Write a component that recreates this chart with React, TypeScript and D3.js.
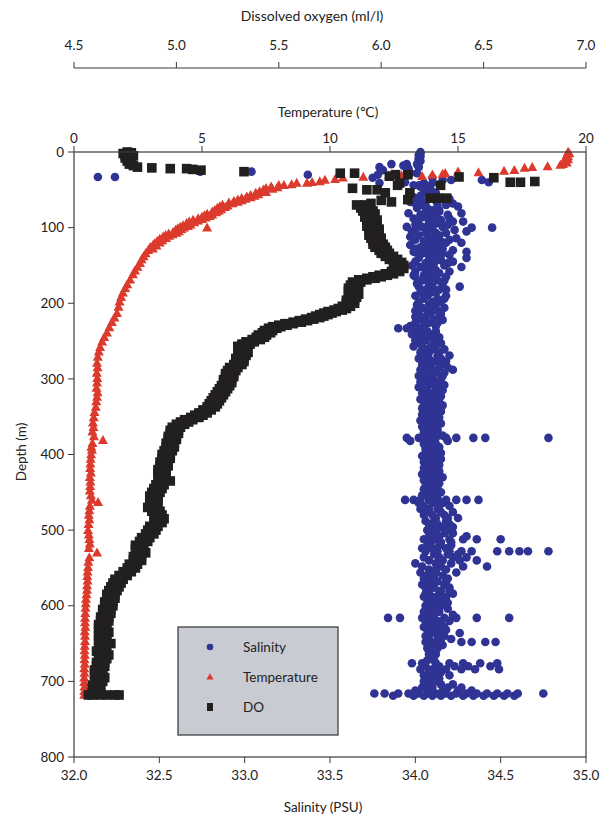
import React from "react";
import * as d3 from "d3";

// ---------- data ----------
const salinityTicks = [32.0, 32.5, 33.0, 33.5, 34.0, 34.5, 35.0];
const temperatureTicks = [0, 5, 10, 15, 20];
const oxygenTicks = [4.5, 5.0, 5.5, 6.0, 6.5, 7.0];
const depthTicks = [0, 100, 200, 300, 400, 500, 600, 700, 800];

// temperature profile: [depth m, temperature °C]
const temperature: [number, number][] = [
  [0, 19.3], [2, 19.35], [4, 19.25], [6, 19.3], [8, 19.2], [10, 19.3], [12, 19.2], [14, 19.25], [16, 19.1],
  [17, 19.0], [19, 18.5], [20, 17.9], [21, 17.6], [24, 17.2], [25, 16.8], [27, 15.8], [26, 15.0], [28, 14.5],
  [29, 14.4], [30, 14.0], [32, 13.6], [31, 12.8], [31, 12.3], [33, 11.3], [34, 10.5], [36, 10.2], [37, 9.8],
  [39, 9.6], [40, 9.3], [41, 9.1], [41, 8.7], [43, 8.5], [44, 8.2], [44, 8.0], [46, 7.7], [47, 7.95],
  [48, 7.5], [49, 7.75], [50, 7.4], [52, 7.25], [53, 7.5], [54, 7.1], [56, 7.2], [57, 6.9], [58, 7.05],
  [59, 6.75], [60, 6.9], [61, 6.55], [62, 6.7], [63, 6.4], [64, 6.55], [65, 6.25], [66, 6.4], [67, 6.05],
  [68, 6.2], [70, 5.8], [71, 6.0], [72, 5.7], [73, 5.9], [74, 5.6], [76, 5.75], [77, 5.5], [78, 5.65],
  [79, 5.4], [80, 5.55], [82, 5.2], [83, 5.4], [84, 5.1], [85, 5.3], [86, 5.0], [87, 5.15], [88, 4.85],
  [89, 5.0], [90, 4.65], [91, 4.85], [92, 4.5], [93, 4.7], [94, 4.4], [96, 4.55], [97, 4.26], [98, 4.45],
  [100, 5.2], [99, 4.15], [100, 4.3], [101, 4.05], [102, 4.2], [103, 3.97], [105, 4.1], [106, 3.87],
  [107, 4.0], [108, 3.7], [109, 3.85], [110, 3.58], [111, 3.72], [112, 3.48], [114, 3.6], [115, 3.35],
  [117, 3.45], [118, 3.25], [120, 3.35], [121, 3.15], [123, 3.09], [124, 3.22], [126, 2.98], [128, 3.08],
  [130, 2.9], [134, 2.8], [138, 2.72], [142, 2.64], [147, 2.58], [152, 2.48], [157, 2.38], [162, 2.3],
  [169, 2.19], [175, 2.08], [180, 2.0], [186, 1.91], [192, 1.84], [198, 1.78], [205, 1.74], [213, 1.68],
  [219, 1.58], [225, 1.48], [232, 1.38], [239, 1.29], [245, 1.18], [251, 1.1], [258, 1.02], [264, 0.97],
  [271, 0.93], [279, 0.9], [285, 0.92], [292, 0.89], [299, 0.91], [305, 0.9], [312, 0.88], [318, 0.92],
  [324, 0.9], [330, 0.87], [337, 0.85], [344, 0.8], [351, 0.77], [358, 0.74], [364, 0.76], [370, 0.72],
  [376, 0.78], [381, 1.13], [385, 0.72], [390, 0.68], [394, 0.7], [400, 0.67], [406, 0.65], [412, 0.64],
  [418, 0.63], [424, 0.66], [430, 0.62], [436, 0.64], [442, 0.63], [448, 0.62], [454, 0.66], [460, 0.7],
  [463, 0.94], [468, 0.62], [474, 0.6], [480, 0.58], [486, 0.6], [492, 0.57], [500, 0.55], [506, 0.58],
  [512, 0.6], [518, 0.62], [524, 0.58], [530, 0.9], [536, 0.6], [542, 0.56], [549, 0.55], [555, 0.53],
  [561, 0.52], [567, 0.53], [573, 0.51], [579, 0.51], [585, 0.49], [591, 0.47], [597, 0.46], [603, 0.45],
  [610, 0.44], [616, 0.43], [622, 0.43], [628, 0.44], [634, 0.42], [640, 0.43], [647, 0.43], [653, 0.42],
  [659, 0.41], [665, 0.42], [671, 0.41], [677, 0.42], [683, 0.4], [689, 0.41], [695, 0.4], [701, 0.4],
  [707, 0.41], [713, 0.4], [718, 0.4],
];

// dissolved oxygen casts: [depth m, DO values (ml/l) around that depth]
const oxygen: [number, number[]][] = [
  [0, [4.76]], [1, [4.78]], [2, [4.74]], [3, [4.77]], [4, [4.75]], [5, [4.79]], [6, [4.76]], [8, [4.75]],
  [10, [4.77]], [12, [4.76]], [14, [4.78]], [16, [4.77]], [18, [4.79]], [20, [4.81]], [21, [4.88]],
  [22, [4.97, 5.05]], [23, [5.08]], [24, [5.12]], [26, [5.33]], [28, [5.8, 5.87]], [30, [6.07, 6.13]],
  [33, [6.38]], [34, [6.55]], [40, [6.63, 6.68]], [39, [6.75]], [32, [6.04]], [41, [6.09]], [44, [6.08, 6.29]],
  [48, [5.86]], [50, [5.93, 5.98]], [54, [6.02, 6.14]], [61, [6.24, 6.28, 6.32]], [63, [6.13]], [64, [6.0]],
  [66, [6.05]], [68, [5.95]],
  [70, [5.88, 5.92]], [74, [5.9, 5.94]], [78, [5.91, 5.96]], [82, [5.93, 5.97]], [86, [5.92, 5.96]],
  [90, [5.93, 5.98]], [94, [5.94, 5.98]], [98, [5.93, 5.97]], [102, [5.94, 5.99]], [106, [5.95, 5.99]],
  [110, [5.94, 5.98]], [114, [5.95, 6.0]], [118, [5.96, 6.0]], [122, [5.96, 6.01]], [126, [5.97, 6.02]],
  [130, [5.99, 6.03]], [134, [6.0, 6.04]], [138, [6.02, 6.06]], [142, [6.04, 6.08]], [146, [6.06, 6.1]],
  [150, [6.07, 6.11]], [154, [6.07, 6.11]], [158, [6.05, 6.09]], [161, [6.02, 6.06]], [163, [5.99, 6.03]],
  [165, [5.96, 6.0]], [167, [5.93, 5.97]], [169, [5.89, 5.93]], [172, [5.86, 5.9]], [176, [5.85, 5.89]],
  [180, [5.84, 5.88]], [184, [5.84, 5.88]], [188, [5.85, 5.89]], [192, [5.84, 5.88]], [196, [5.83, 5.87]],
  [200, [5.83, 5.87]], [204, [5.81, 5.85]], [207, [5.79, 5.83]], [209, [5.77, 5.81]], [211, [5.74, 5.78]],
  [213, [5.72, 5.76]], [215, [5.7, 5.74]], [217, [5.68, 5.72]], [219, [5.66, 5.7]], [221, [5.63, 5.67]],
  [223, [5.6, 5.64]], [225, [5.57, 5.61]], [227, [5.53, 5.57]], [229, [5.5, 5.54]], [231, [5.47, 5.51]],
  [233, [5.45, 5.49]], [236, [5.43, 5.47]], [239, [5.42, 5.46]], [242, [5.4, 5.44]], [245, [5.39, 5.43]],
  [248, [5.37, 5.41]], [251, [5.34, 5.38]], [254, [5.32, 5.36]], [257, [5.3, 5.34]], [261, [5.3, 5.34]],
  [265, [5.31, 5.35]], [269, [5.3, 5.34]], [273, [5.29, 5.33]], [277, [5.29, 5.33]], [281, [5.28, 5.32]],
  [285, [5.26, 5.3]], [289, [5.25, 5.29]], [293, [5.24, 5.28]], [297, [5.24, 5.28]], [301, [5.23, 5.27]],
  [305, [5.23, 5.27]], [309, [5.22, 5.26]], [313, [5.21, 5.25]], [317, [5.2, 5.24]], [321, [5.19, 5.23]],
  [325, [5.18, 5.22]], [329, [5.17, 5.21]], [333, [5.16, 5.2]], [337, [5.15, 5.19]], [341, [5.13, 5.17]],
  [345, [5.11, 5.15]], [348, [5.09, 5.13]], [351, [5.07, 5.11]], [354, [5.04, 5.08]], [357, [5.02, 5.06]],
  [360, [5.0, 5.04]], [364, [4.98, 5.02]], [368, [4.97, 5.01]], [372, [4.97, 5.01]], [376, [4.96, 5.0]],
  [380, [4.96, 5.0]], [385, [4.95, 4.99]], [390, [4.95, 4.99]], [395, [4.94, 4.98]], [400, [4.93, 4.97]],
  [405, [4.93, 4.97]], [410, [4.92, 4.96]], [415, [4.92, 4.96]], [420, [4.91, 4.95]], [425, [4.91, 4.95]],
  [430, [4.91, 4.95]], [435, [4.93, 4.97]], [440, [4.9, 4.94]], [445, [4.89, 4.93]], [450, [4.88, 4.92]],
  [455, [4.87, 4.91]], [460, [4.87, 4.91]], [465, [4.87, 4.91]], [470, [4.86, 4.9]], [475, [4.88, 4.92]],
  [480, [4.89, 4.93]], [485, [4.9, 4.94]], [490, [4.89, 4.93]], [495, [4.87, 4.91]], [500, [4.86, 4.9]],
  [505, [4.85, 4.89]], [510, [4.83, 4.87]], [515, [4.82, 4.86]], [520, [4.8, 4.84]], [525, [4.8, 4.84]],
  [530, [4.81, 4.85]], [535, [4.79, 4.83]], [540, [4.79, 4.83]], [545, [4.77, 4.81]], [550, [4.76, 4.8]],
  [555, [4.74, 4.78]], [560, [4.72, 4.76]], [565, [4.7, 4.74]], [570, [4.69, 4.73]], [575, [4.68, 4.72]],
  [580, [4.67, 4.71]], [585, [4.66, 4.7]], [590, [4.66, 4.7]], [595, [4.65, 4.69]], [600, [4.65, 4.69]],
  [605, [4.64, 4.68]], [610, [4.64, 4.68]], [615, [4.63, 4.67]], [620, [4.63, 4.67]], [625, [4.62, 4.66]],
  [630, [4.62, 4.66]], [635, [4.63, 4.67]], [640, [4.62, 4.66]], [645, [4.62, 4.66]], [650, [4.64, 4.68]],
  [655, [4.62, 4.66]], [660, [4.61, 4.65]], [665, [4.63, 4.67]], [670, [4.62, 4.66]], [675, [4.61, 4.65]],
  [680, [4.61, 4.65]], [685, [4.6, 4.64]], [690, [4.6, 4.64]], [695, [4.61, 4.65]], [700, [4.6, 4.64]],
  [705, [4.59, 4.63]], [710, [4.59, 4.63]], [715, [4.59, 4.63]], [718, [4.57, 4.59, 4.63, 4.66, 4.7, 4.72]],
];

// salinity casts: [depth m, salinity values (PSU) recorded around that depth]
const salinity: [number, number[]][] = [
  [0, [34.03]], [2, [34.03]], [4, [34.02]], [6, [34.03]], [8, [34.02]], [10, [34.02]], [12, [34.03]],
  [14, [34.02]], [16, [34.01, 33.95, 33.86]], [18, [33.93]], [20, [33.79, 34.02]], [22, [33.96]],
  [24, [33.81]], [26, [32.74, 33.04, 33.96]], [28, [34.01, 33.97]], [30, [33.37, 33.78]],
  [33, [32.14, 32.24]], [34, [33.75, 34.1]], [37, [34.16, 34.21, 34.39]], [40, [33.94, 34.43]],
  [41, [33.79, 34.05, 34.1]], [44, [33.99, 34.02]], [46, [34.03, 34.08]], [50, [34.09, 34.05]],
  [54, [34.06, 34.12]], [58, [34.03, 34.1]], [60, [33.99, 34.08]], [62, [34.15, 34.2]], [64, [34.02, 34.12]],
  [66, [33.97, 34.06]], [68, [34.0, 34.22]], [70, [34.04, 34.13, 34.18]], [72, [34.25]], [74, [34.01, 34.07]],
  [77, [34.1, 34.14]], [79, [34.14, 34.06]], [81, [33.96, 34.27]], [83, [34.19, 34.09, 34.03]],
  [86, [34.12, 34.05]], [88, [33.99, 34.2]], [90, [34.09, 34.15, 34.02]], [92, [34.22, 34.28]],
  [94, [34.08, 34.13]], [96, [34.0, 34.19]], [99, [33.95, 34.04, 34.16]], [100, [34.33, 34.45, 34.1]],
  [103, [34.23, 34.08, 34.0]], [105, [34.3, 33.98]], [107, [34.06, 34.12, 34.18]], [110, [34.14, 34.02]],
  [112, [33.97, 34.08]], [114, [34.24, 34.11]], [116, [34.2, 34.0]], [118, [34.05, 34.15, 34.09]],
  [120, [34.27, 34.18]], [123, [33.97, 34.07, 34.13]], [126, [34.09, 34.03]], [128, [34.0, 34.16]],
  [130, [34.22, 34.12, 34.06]], [132, [34.3, 33.99]], [134, [34.1, 34.16, 34.04]], [136, [34.2, 34.02]],
  [138, [34.08, 34.13]], [140, [34.3, 34.02]], [143, [34.09, 34.15]], [145, [34.22, 34.0]],
  [147, [34.06, 34.11, 34.19]], [150, [34.17, 33.98]], [152, [34.27, 34.08, 34.03]], [156, [34.12, 34.06]],
  [158, [34.2, 34.0]], [160, [34.14, 34.09]], [163, [33.99, 34.05]], [165, [34.18, 34.0]],
  [167, [34.11, 34.07]], [170, [34.04, 34.13, 34.17]], [174, [34.01, 34.08, 34.16]],
  [178, [34.26, 34.1, 34.02]], [182, [34.06, 34.14, 34.18]], [186, [34.09, 34.03, 34.12]],
  [190, [34.0, 34.18, 34.07]], [194, [34.05, 34.13, 34.17]], [198, [34.1, 34.02, 34.15]],
  [202, [34.01, 34.08, 34.12]], [206, [34.04, 34.17, 34.1]], [210, [34.07, 34.13, 34.0]],
  [214, [34.02, 34.09, 34.15]], [218, [34.06, 34.14, 34.0]], [222, [34.04, 34.11, 34.16]],
  [226, [34.0, 34.08, 34.13]], [230, [33.97, 34.05, 34.12]], [233, [33.9, 33.95, 34.03]],
  [237, [34.0, 34.07, 34.12]], [241, [33.98, 34.04, 34.1]], [245, [34.02, 34.08, 34.14]],
  [249, [34.0, 34.06, 34.11]], [253, [34.03, 34.11, 34.15]], [257, [34.04, 34.09, 33.99]],
  [261, [34.06, 34.12, 34.17]], [265, [34.08, 34.03, 34.14]], [269, [34.05, 34.13, 34.2]],
  [273, [34.08, 34.15, 34.02]], [277, [34.06, 34.11, 34.18]], [281, [34.09, 34.04, 34.15]],
  [285, [34.07, 34.14, 34.19]], [288, [34.22, 34.1, 34.03]], [292, [34.05, 34.12, 34.17]],
  [296, [34.08, 34.16, 34.02]], [300, [34.06, 34.1, 34.15]], [304, [34.09, 34.13, 34.03]],
  [308, [34.05, 34.11, 34.17]], [311, [34.07, 34.15, 34.02]], [315, [34.06, 34.12, 34.16]],
  [319, [34.08, 34.1, 34.04]], [323, [34.05, 34.11, 34.15]], [327, [34.07, 34.13, 34.03]],
  [331, [34.09, 34.06, 34.14]], [335, [34.05, 34.12, 34.16]], [339, [34.08, 34.11, 34.04]],
  [343, [34.06, 34.1, 34.15]], [347, [34.07, 34.13, 34.04]], [351, [34.05, 34.09, 34.14]],
  [355, [34.08, 34.12, 34.03]], [359, [34.06, 34.1, 34.15]], [363, [34.07, 34.11, 34.04]],
  [367, [34.08, 34.05, 34.13]], [371, [34.09, 34.13, 34.05]], [375, [34.06, 34.11, 34.16]],
  [378, [33.95, 34.02, 34.07, 34.12, 34.18, 34.24, 34.34, 34.41, 34.78]], [382, [33.97, 34.05, 34.1, 34.19]],
  [386, [34.08, 34.12, 34.05]], [390, [34.09, 34.06, 34.14]], [394, [34.1, 34.13, 34.06]],
  [398, [34.08, 34.11, 34.15]], [402, [34.07, 34.1, 34.04]], [406, [34.09, 34.12, 34.15]],
  [410, [34.08, 34.11, 34.05]], [414, [34.07, 34.1, 34.14]], [418, [34.09, 34.12, 34.05]],
  [422, [34.08, 34.1, 34.14]], [426, [34.07, 34.11, 34.04]], [430, [34.09, 34.12, 34.16]],
  [434, [34.08, 34.1, 34.05]], [438, [34.07, 34.11, 34.14]], [442, [34.06, 34.1, 34.13]],
  [446, [34.09, 34.12, 34.05]], [450, [34.08, 34.11, 34.15]], [454, [34.07, 34.1, 34.04]], [458, [34.09, 34.13]],
  [460, [33.94, 33.99, 34.03, 34.08, 34.12, 34.18, 34.24, 34.3, 34.37]], [464, [34.02, 34.1, 34.16]],
  [468, [34.05, 34.14, 34.2]], [472, [34.08, 34.13, 34.03]], [476, [34.07, 34.15, 34.22]],
  [480, [34.1, 34.17, 34.05]], [484, [34.12, 34.19, 34.25]], [488, [34.11, 34.18, 34.06]],
  [492, [34.13, 34.2, 34.08]], [496, [34.09, 34.16, 34.22]], [500, [34.12, 34.19, 34.07]],
  [504, [34.1, 34.17, 34.22]], [508, [34.08, 34.14, 34.3]], [512, [34.05, 34.12, 34.2, 34.28, 34.36, 34.5]],
  [516, [34.09, 34.15, 34.21]], [520, [34.07, 34.14, 34.21]], [524, [34.1, 34.18, 34.04]],
  [528, [34.06, 34.13, 34.2, 34.27, 34.33, 34.48, 34.55, 34.61, 34.66, 34.78]],
  [532, [34.11, 34.19, 34.25]], [536, [34.05, 34.14, 34.22, 34.3]], [540, [34.08, 34.16, 34.26, 34.36]],
  [544, [34.0, 34.12, 34.21]], [548, [34.04, 34.15, 34.28, 34.42]], [552, [34.08, 34.18, 34.12]],
  [556, [34.03, 34.12, 34.24]], [560, [34.07, 34.16, 34.11]], [564, [34.1, 34.19, 34.05]],
  [568, [34.06, 34.13, 34.18]], [572, [34.09, 34.17, 34.04]], [576, [34.11, 34.2, 34.06]],
  [580, [34.08, 34.15, 34.2]], [584, [34.06, 34.14, 34.22]], [588, [34.1, 34.18, 34.05]],
  [592, [34.07, 34.16, 34.12]], [596, [34.09, 34.13, 34.19]], [600, [34.06, 34.15, 34.11]],
  [604, [34.08, 34.12, 34.19]], [608, [34.05, 34.14, 34.1]], [612, [34.07, 34.11, 34.22]],
  [616, [33.84, 33.91, 34.04, 34.1, 34.17, 34.24, 34.36, 34.55]], [620, [34.06, 34.13, 34.2]],
  [624, [34.08, 34.15, 34.11]], [628, [34.05, 34.11, 34.17]], [632, [34.07, 34.14, 34.18]],
  [636, [34.09, 34.12, 34.26]], [640, [34.06, 34.13, 34.17]], [644, [34.08, 34.15, 34.21]],
  [648, [34.06, 34.12, 34.27, 34.33, 34.41, 34.47]], [652, [34.09, 34.16, 34.12]], [656, [34.07, 34.13]],
  [660, [34.09, 34.11]], [664, [34.08, 34.12]], [668, [34.09, 34.1]], [672, [34.07, 34.11]],
  [676, [33.98, 34.04, 34.12, 34.2, 34.28, 34.38, 34.48]], [680, [34.06, 34.14, 34.23, 34.31, 34.44]],
  [684, [34.03, 34.1, 34.18, 34.27, 34.35, 34.49]], [688, [34.08, 34.15, 34.11]], [692, [34.05, 34.12, 34.2]],
  [696, [34.07, 34.14, 34.1]], [700, [34.09, 34.12, 34.05]], [704, [34.06, 34.15, 34.22]],
  [708, [34.04, 34.1, 34.19, 34.27]], [712, [34.0, 34.08, 34.16, 34.25, 34.33]],
  [716, [33.76, 33.82, 33.9, 33.96, 34.02, 34.07, 34.12, 34.18, 34.24, 34.3, 34.36, 34.42, 34.48, 34.54, 34.6, 34.75]],
  [719, [33.87, 33.99, 34.05, 34.1, 34.15, 34.21, 34.28, 34.34, 34.4, 34.46, 34.52, 34.58]],
];

const legendItems = ["Salinity", "Temperature", "DO"];

// ---------- styling ----------
const FONT = "Lato, 'Open Sans', 'DejaVu Sans', sans-serif";
const BLUE = "#2f3494";
const RED = "#db3a2c";
const BLACK = "#221f1f";
const AXIS = "#3a3a3a";
const FS = 13.5;

const triPath = "M0,-5.2 L5,3.8 L-5,3.8 Z";

export default function App() {
  const left = 74, right = 586, top = 152, bottom = 757;
  const doAxisY = 68;

  const xSal = d3.scaleLinear().domain([32, 35]).range([left, right]);
  const xTemp = d3.scaleLinear().domain([0, 20]).range([left, right]);
  const xDO = d3.scaleLinear().domain([4.5, 7.0]).range([left, right]);
  const y = d3.scaleLinear().domain([0, 800]).range([top, bottom]);
  const f1 = d3.format(".1f");

  const salPoints: [number, number][] = [];
  salinity.forEach(([d, vals]) => vals.forEach((v) => salPoints.push([d, v])));
  const doPoints: [number, number][] = [];
  oxygen.forEach(([d, vals]) => vals.forEach((v) => doPoints.push([d, v])));

  const sq = 9.6;

  return (
    <svg
      width={611}
      height={815}
      style={{ position: "absolute", left: 0, top: 0, display: "block", background: "#fff" }}
      fontFamily={FONT}
    >
      <rect x={0} y={0} width={611} height={815} fill="#fff" />

      {/* data */}
      <g>
        {salPoints.map(([d, v], i) => (
          <circle key={"s" + i} cx={xSal(v)} cy={y(d)} r={4.3} fill={BLUE} />
        ))}
      </g>
      <g>
        {temperature.map(([d, v], i) => (
          <path key={"t" + i} d={triPath} transform={`translate(${xTemp(v)},${y(d)})`} fill={RED} />
        ))}
      </g>
      <g>
        {doPoints.map(([d, v], i) => (
          <rect key={"o" + i} x={xDO(v) - sq / 2} y={y(d) - sq / 2} width={sq} height={sq} fill={BLACK} />
        ))}
      </g>

      {/* frame */}
      <rect x={left} y={top} width={right - left} height={bottom - top} fill="none" stroke={AXIS} strokeWidth={1.2} />

      {/* left axis: depth */}
      {depthTicks.map((t) => (
        <g key={"d" + t}>
          <line x1={left - 6} x2={left} y1={y(t)} y2={y(t)} stroke={AXIS} strokeWidth={1} />
          <text x={left - 10} y={y(t)} dy="0.35em" textAnchor="end" fontSize={FS} fill="#222">
            {t}
          </text>
        </g>
      ))}
      <text
        transform={`translate(21,452) rotate(-90)`}
        textAnchor="middle"
        dy="0.35em"
        fontSize={FS}
        fill="#222"
      >
        Depth (m)
      </text>

      {/* bottom axis: salinity */}
      {salinityTicks.map((t) => (
        <g key={"s" + t}>
          <line x1={xSal(t)} x2={xSal(t)} y1={bottom} y2={bottom + 6} stroke={AXIS} strokeWidth={1} />
          <text x={xSal(t)} y={bottom + 23} textAnchor="middle" fontSize={FS} fill="#222">
            {f1(t)}
          </text>
        </g>
      ))}
      <text x={323} y={812} textAnchor="middle" fontSize={FS} fill="#222">
        Salinity (PSU)
      </text>

      {/* top axis: temperature */}
      {temperatureTicks.map((t) => (
        <g key={"t" + t}>
          <line x1={xTemp(t)} x2={xTemp(t)} y1={top - 6} y2={top} stroke={AXIS} strokeWidth={1} />
          <text x={xTemp(t)} y={top - 9} textAnchor="middle" fontSize={FS} fill="#222">
            {t}
          </text>
        </g>
      ))}
      <text x={328} y={117} textAnchor="middle" fontSize={FS} fill="#222">
        Temperature (℃)
      </text>

      {/* separate DO axis */}
      <line x1={left} x2={right} y1={doAxisY} y2={doAxisY} stroke={AXIS} strokeWidth={1.2} />
      {oxygenTicks.map((t) => (
        <g key={"o" + t}>
          <line x1={xDO(t)} x2={xDO(t)} y1={doAxisY - 6} y2={doAxisY} stroke={AXIS} strokeWidth={1} />
          <text x={xDO(t)} y={doAxisY - 18} textAnchor="middle" fontSize={FS} fill="#222">
            {f1(t)}
          </text>
        </g>
      ))}
      <text x={312} y={21} textAnchor="middle" fontSize={14} fill="#222">
        Dissolved oxygen (ml/l)
      </text>

      {/* legend */}
      <g>
        <rect x={178} y={627} width={160} height={108} fill="#c9cbd2" stroke="#333" strokeWidth={1.2} />
        {legendItems.map((name, i) => {
          const cy = 647 + i * 30;
          return (
            <g key={name}>
              {i === 0 && <circle cx={210} cy={cy} r={3.3} fill={BLUE} />}
              {i === 1 && <path d="M0,-3.8 L3.6,2.6 L-3.6,2.6 Z" transform={`translate(210,${cy})`} fill={RED} />}
              {i === 2 && <rect x={207} y={cy - 4} width={6} height={8} fill={BLACK} />}
              <text x={243} y={cy} dy="0.35em" fontSize={FS} fill="#222">
                {name}
              </text>
            </g>
          );
        })}
      </g>
    </svg>
  );
}
